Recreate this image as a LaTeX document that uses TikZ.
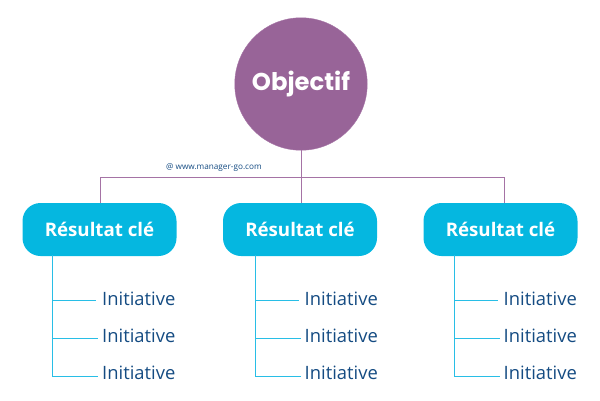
\documentclass[tikz,border=0pt]{standalone}
\usepackage{fontspec}
\setmainfont{Open Sans}
\newfontfamily\titlefont{Poppins}
\definecolor{purplegoal}{RGB}{152,100,152}
\definecolor{purplelink}{RGB}{165,115,165}
\definecolor{bluekey}{RGB}{5,183,224}
\definecolor{bluelink}{RGB}{40,190,230}
\definecolor{navytext}{RGB}{20,75,130}
\tikzset{
  px/.style={x=1pt,y=-1pt},
  goalnode/.style={circle,draw=purplelink,fill=purplegoal,minimum size=132.5pt,inner sep=0pt,text=white,font=\titlefont\bfseries\fontsize{24.3}{26}\selectfont},
  keynode/.style={rectangle,rounded corners=18pt,fill=bluekey,minimum width=154pt,minimum height=53pt,inner sep=0pt,text=white,font=\bfseries\fontsize{18.7}{21}\selectfont},
  initnode/.style={anchor=west,inner sep=0pt,text=navytext,font=\fontsize{18.4}{20}\selectfont},
  purpleline/.style={draw=purplelink,line width=1pt},
  blueline/.style={draw=bluelink,line width=1pt}
}
\begin{document}
\begin{tikzpicture}[px]
\useasboundingbox (0,0) rectangle (600,400);

\node[goalnode] (goal) at (301,84) {\raisebox{-1.5pt}{Objectif}};

\node[keynode] (keyA) at (99.5,229.5) {Résultat clé};
\node[keynode] (keyB) at (300,229.5) {Résultat clé};
\node[keynode] (keyC) at (500.5,229.5) {Résultat clé};

\coordinate (busA) at (100.5,177.5);
\coordinate (busB) at (301.5,177.5);
\coordinate (busC) at (504.5,177.5);
\draw[purpleline] (goal.south -| busB) -- (busB);
\draw[purpleline] (keyA.north -| busA) -- (busA) -- (busC) -- (keyC.north -| busC);
\draw[purpleline] (busB) -- (keyB.north -| busB);

\node[anchor=west,inner sep=0pt,text=navytext,font=\fontsize{8.2}{10}\selectfont] (credit) at (166,168) {@ www.manager-go.com};

% first column
\node[initnode] (a1) at (102,299) {Initiative};
\node[initnode] (a2) at (102,335.5) {Initiative};
\node[initnode] (a3) at (102,372.5) {Initiative};
\coordinate (a0) at (52.5,255);
\coordinate (a1e) at (96,300.5);
\coordinate (a2e) at (98,338.5);
\coordinate (a3e) at (98,376.5);
\draw[blueline] (a0) |- (a1e);
\draw[blueline] (a0) |- (a2e);
\draw[blueline] (a0) |- (a3e);

% second column
\node[initnode] (b1) at (304.5,299) {Initiative};
\node[initnode] (b2) at (304.5,335.5) {Initiative};
\node[initnode] (b3) at (304.5,372.5) {Initiative};
\coordinate (b0) at (255.5,255);
\coordinate (b1e) at (298.5,300.5);
\coordinate (b2e) at (300.5,338.5);
\coordinate (b3e) at (300.5,376.5);
\draw[blueline] (b0) |- (b1e);
\draw[blueline] (b0) |- (b2e);
\draw[blueline] (b0) |- (b3e);

% third column
\node[initnode] (c1) at (503.5,299) {Initiative};
\node[initnode] (c2) at (503.5,335.5) {Initiative};
\node[initnode] (c3) at (503.5,372.5) {Initiative};
\coordinate (c0) at (454.5,255);
\coordinate (c1e) at (497.5,300.5);
\coordinate (c2e) at (499.5,338.5);
\coordinate (c3e) at (499.5,376.5);
\draw[blueline] (c0) |- (c1e);
\draw[blueline] (c0) |- (c2e);
\draw[blueline] (c0) |- (c3e);

\end{tikzpicture}
\end{document}
